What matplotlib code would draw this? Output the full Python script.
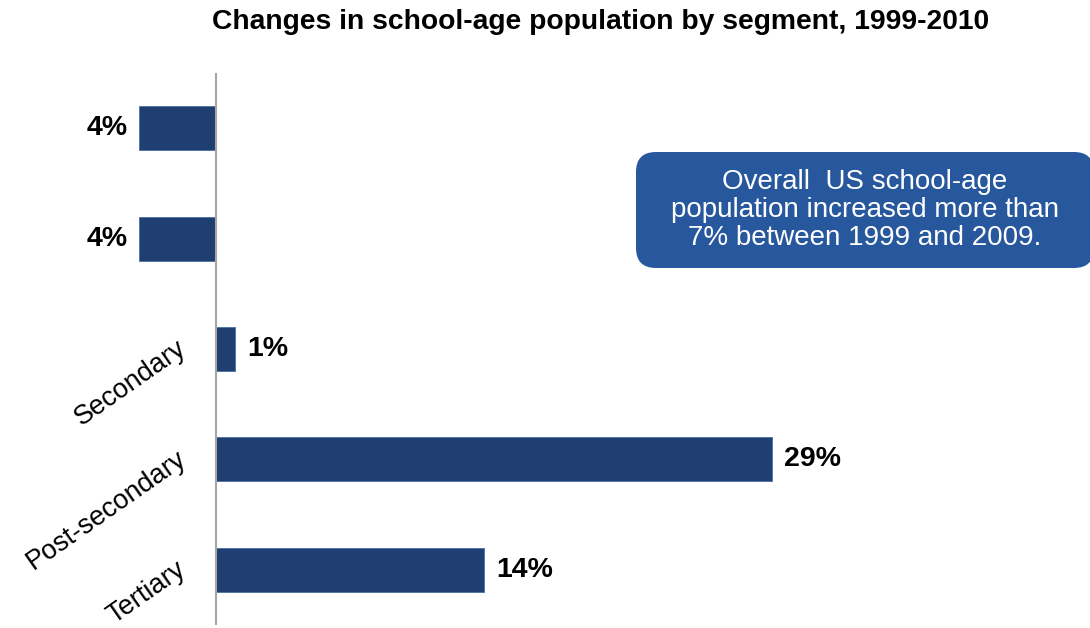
import matplotlib
matplotlib.use('agg')
import matplotlib.pyplot as plt
import matplotlib.transforms as mtransforms
from matplotlib.patches import FancyBboxPatch

plt.rcParams['font.family'] = ['Liberation Sans', 'DejaVu Sans']

# change in school-age population by segment, %
segments = ['', '', 'Secondary', 'Post-secondary', 'Tertiary']
changes = [-4, -4, 1, 29, 14]
value_labels = ['4%', '4%', '1%', '29%', '14%']

bar_color = '#1F3F73'
box_color = '#27579C'

fig = plt.figure(figsize=(10.9, 6.28), dpi=100)
ax = fig.add_axes([139 / 1090, 3 / 628, 652 / 1090, 552 / 628])

ypos = list(range(len(segments)))
ax.barh(ypos, changes, height=0.4, color=bar_color, edgecolor='#4A6FA5', linewidth=0.6)
ax.set_ylim(4.5, -0.5)
ax.set_xlim(-4, 30)
ax.axvline(0, color='#A6A6A6', lw=1.5)

for s in ax.spines.values():
    s.set_visible(False)
ax.set_xticks([])
ax.set_yticks(ypos)
ax.set_yticklabels(segments, rotation=35, ha='right', va='center',
                   rotation_mode='anchor', fontsize=19.5)
# labels sit just left of the zero line, not the axes edge
ax.tick_params(axis='y', length=0, pad=-32)
nudge = mtransforms.ScaledTranslation(0, 0.03, fig.dpi_scale_trans)
for t in ax.get_yticklabels():
    t.set_transform(t.get_transform() + nudge)

for y, v, lab in zip(ypos, changes, value_labels):
    if v < 0:
        ax.annotate(lab, (v, y), xytext=(-11, 0), textcoords='offset pixels',
                    ha='right', va='center', fontsize=20.5, fontweight='bold')
    else:
        ax.annotate(lab, (v, y), xytext=(12, 0), textcoords='offset pixels',
                    ha='left', va='center', fontsize=20.5, fontweight='bold')

fig.text(601 / 1090, 1 - 22 / 628, 'Changes in school-age population by segment, 1999-2010',
         ha='center', va='center', fontsize=20.3, fontweight='bold')

# callout box, drawn in inches
box = FancyBboxPatch((6.5, 3.74), 4.3, 0.88, boxstyle='round,pad=0.14,rounding_size=0.2',
                     transform=fig.dpi_scale_trans, facecolor=box_color,
                     edgecolor='none', clip_on=False)
fig.patches.append(box)
fig.text(865 / 1090, 1 - 210 / 628,
         'Overall  US school-age\npopulation increased more than\n7% between 1999 and 2009.',
         ha='center', va='center', color='white', fontsize=20, linespacing=1.1)

fig.savefig('out.png', dpi=100)
